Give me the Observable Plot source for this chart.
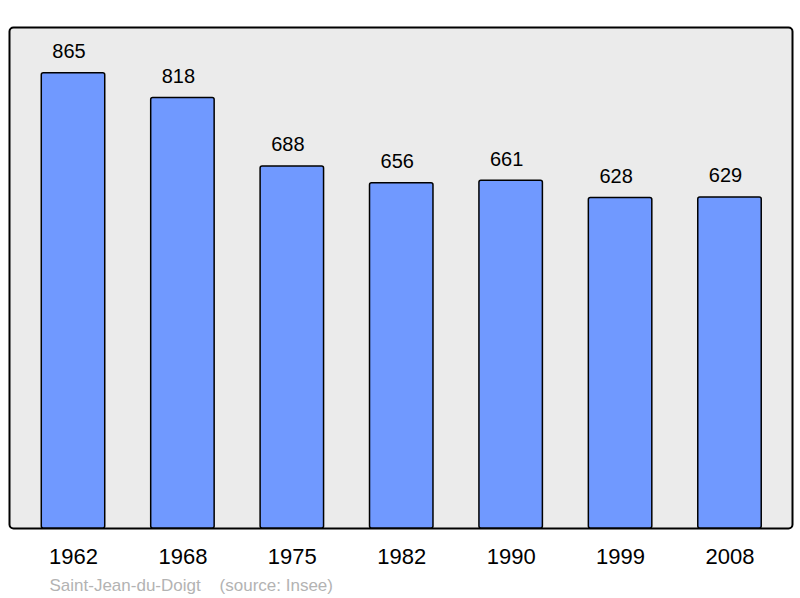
<!DOCTYPE html>
<html>
<head>
<meta charset="utf-8">
<script src="https://cdn.jsdelivr.net/npm/d3@7"></script>
<script src="https://cdn.jsdelivr.net/npm/@observablehq/plot@0.6"></script>
<style>
  html, body { margin: 0; padding: 0; background: #ffffff; }
  svg { display: block; }
</style>
</head>
<body>
<div id="chart"></div>
<script>
const years = ["1962", "1968", "1975", "1982", "1990", "1999", "2008"];
const population = [865, 818, 688, 656, 661, 628, 629];
const captionTexts = ["Saint-Jean-du-Doigt\u00a0\u00a0\u00a0\u00a0(source: Insee)"];

const data = years.map((y, i) => ({year: y, pop: population[i]}));

const chart = Plot.plot({
  width: 800,
  height: 598,
  marginLeft: 9,
  marginRight: 8,
  marginTop: 27,
  marginBottom: 70,
  style: {fontFamily: "'Liberation Sans', Arial, sans-serif", background: "#ffffff"},
  x: {
    domain: years,
    paddingInner: 0.42,
    paddingOuter: 0.21,
    round: false,
    insetLeft: 9.3,
    insetRight: 7.8,
    label: null,
    tickSize: 0,
    tickPadding: 20
  },
  y: {domain: [0, 952], axis: null},
  marks: [
    Plot.frame({fill: "#ebebeb", stroke: "#000000", strokeWidth: 2, rx: 4}),
    Plot.barY(data, {x: "year", y: "pop", fill: "#7099ff", stroke: "#000000", strokeWidth: 1.5, rx: 2}),
    Plot.text(data, {x: "year", y: "pop", text: d => String(d.pop), lineAnchor: "bottom", dx: -4.5, dy: -15, fontSize: 20, fill: "#000000"}),
    Plot.axisX({tickSize: 0, tickPadding: 20, fontSize: 22, label: null, fill: "#000000"}),
    Plot.text(captionTexts, {frameAnchor: "bottom-left", text: d => d, textAnchor: "start", lineAnchor: "bottom", dx: 40, dy: 62, fontSize: 17, fill: "#b3b3b3"})
  ]
});
document.getElementById("chart").appendChild(chart);
</script>
</body>
</html>
